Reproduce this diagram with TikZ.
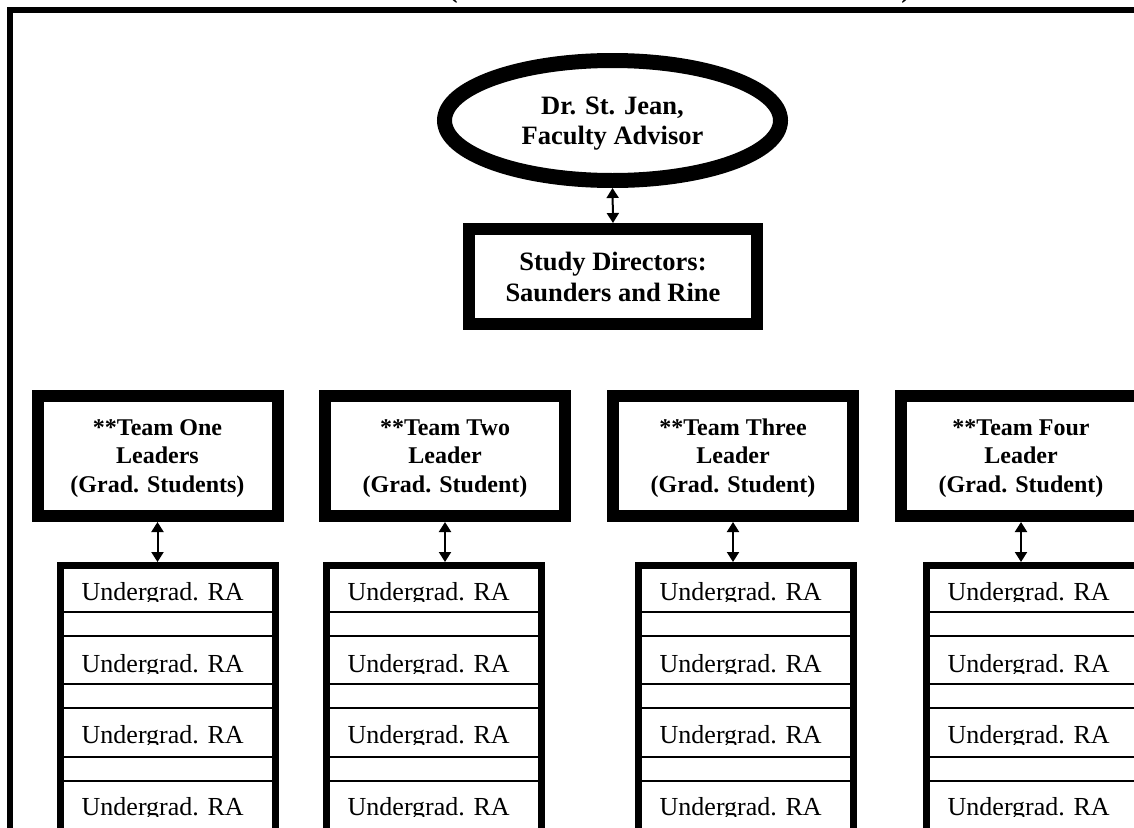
\documentclass[tikz,border=0pt]{standalone}
\usepackage{fontspec}
\setmainfont{Liberation Serif}
\usetikzlibrary{arrows.meta,backgrounds,shapes.geometric}
\newcommand{\topstrut}[1]{\rule{0pt}{#1}}
\begin{document}
\begin{tikzpicture}[x=1pt,y=-1pt,
  tip/.tip={Triangle[width=12pt,length=10pt]},
  conn/.style={tip-tip, line width=2pt},
  advisor/.style={draw, ellipse, line width=15pt, minimum width=336pt, minimum height=120pt, inner sep=0pt, align=center, font=\fontsize{26.5}{30}\selectfont\bfseries},
  director/.style={draw, rectangle, line width=12pt, minimum width=288pt, minimum height=95pt, inner sep=0pt, align=center, font=\fontsize{26.5}{31}\selectfont\bfseries},
  lead/.style={draw, rectangle, line width=12pt, minimum width=240pt, minimum height=120pt, inner sep=0pt, align=center, font=\fontsize{24}{28.5}\selectfont\bfseries},
  column/.style={draw, rectangle, line width=7pt, minimum width=215pt, minimum height=334.5pt, inner sep=0pt},
  ra/.style={anchor=base west, inner sep=0pt, font=\fontsize{26}{30}\selectfont},
  rowline/.style={line width=1.5pt},
  paren/.style={anchor=base, inner sep=0pt, font=\fontsize{28}{30}\selectfont\bfseries}
]
\useasboundingbox (0,0) rectangle (1134,827);
\clip (0,0) rectangle (1134,827);
\fill[white] (0,0) rectangle (1134,827);

% clipped title fragments
\node[paren] (lp) at (453,-2) {(};
\node[paren] (rp) at (906,-2) {)};

% outer frame
\draw[line width=6pt] (10,10) rectangle (1300,1000);

% nodes
\node[advisor] (adv) at (612.5,120.5) {\topstrut{24pt}Dr. St. Jean,\\Faculty Advisor};
\node[director] (sd) at (613,276.5) {\topstrut{20pt}Study Directors:\\Saunders and Rine};

\node[lead] (t1) at (157.5,456) {\topstrut{20.5pt}**Team One\\Leaders\\(Grad. Students)};
\node[lead] (t2) at (445,456) {\topstrut{20.5pt}**Team Two\\Leader\\(Grad. Student)};
\node[lead] (t3) at (733,456) {\topstrut{20.5pt}**Team Three\\Leader\\(Grad. Student)};
\node[lead] (t4) at (1021,456) {\topstrut{20.5pt}**Team Four\\Leader\\(Grad. Student)};

\node[column] (c1) at (167.5,732.75) {};
\node[column] (c2) at (433.5,732.75) {};
\node[column] (c3) at (745.5,732.75) {};
\node[column] (c4) at (1033.5,732.75) {};

% rows of the undergraduate columns
\foreach \cx/\c in {167.5/1,433.5/2,745.5/3,1033.5/4}{
  \foreach \ly in {612,636,684,708,757,781}{
    \draw[rowline] (\cx-104,\ly) -- (\cx+104,\ly);
  }
  \foreach \b/\t/\r in {600/565/1,672/636/2,743/708/3,815/781/4}{
    \begin{scope}
      \clip (\cx-104,\t) rectangle (\cx+104,\b+1.5);
      \node[ra] (u\c\r) at (\cx-86,\b) {Undergrad. RA};
    \end{scope}
  }
}

% connectors
\draw[conn] (adv.south) -- (sd.north);
\begin{pgfonlayer}{background}
\draw[conn] ([yshift=-5.5pt]sd.west) -- ([xshift=29.5pt,yshift=-3pt]t1.north);
\draw[conn] ([xshift=-56pt]sd.south) -- ([xshift=7pt,yshift=-3pt]t2.north);
\draw[conn] ([xshift=99pt]sd.south) -- ([xshift=20pt,yshift=-3pt]t3.north);
\draw[conn] ([yshift=-5.5pt]sd.east) -- ([xshift=-10pt,yshift=-3pt]t4.north);
\end{pgfonlayer}
\draw[conn] (t1.south) -- (t1.south |- c1.north);
\draw[conn] (t2.south) -- (t2.south |- c2.north);
\draw[conn] (t3.south) -- (t3.south |- c3.north);
\draw[conn] (t4.south) -- (t4.south |- c4.north);
\end{tikzpicture}
\end{document}
